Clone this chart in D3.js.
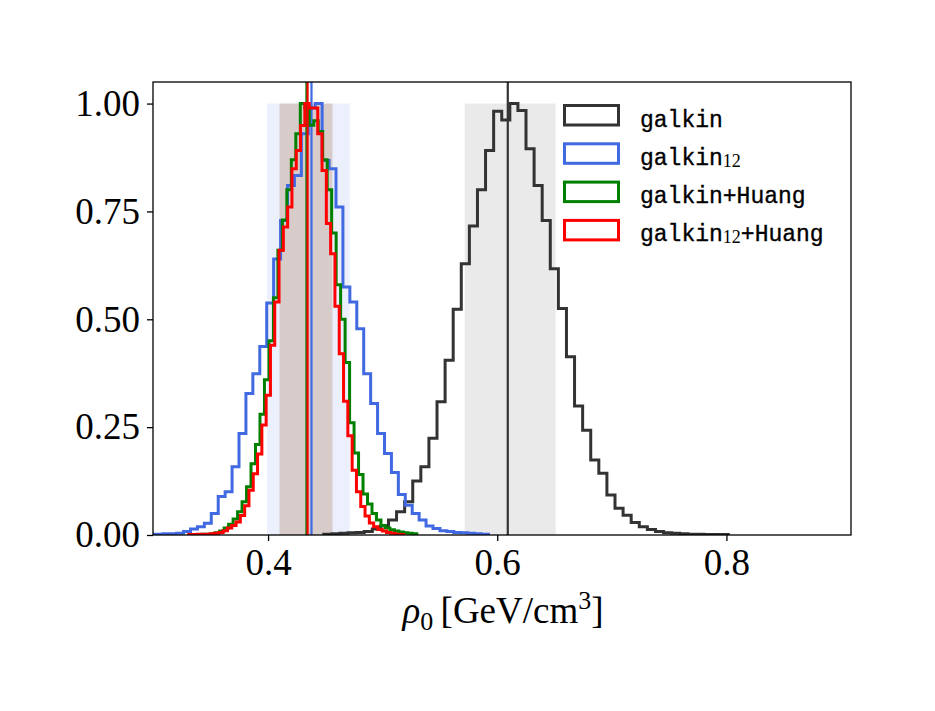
<!DOCTYPE html>
<meta charset="utf-8">
<style>
body { margin: 0; background: #fff; }
.axis text { font-family: "Liberation Serif", serif; font-size: 37px; fill: #000; }
.axis path, .axis line { stroke: #000; stroke-width: 1.3px; fill: none; }
.legend text { font-family: "Liberation Mono", monospace; font-size: 23px; fill: #000; stroke: #000; stroke-width: 0.35px; }
.hist { fill: none; stroke-width: 3px; stroke-linejoin: miter; }
</style>
<body>
<script src="https://d3js.org/d3.v7.min.js"></script>
<script>

var xTicks = [0.4, 0.6, 0.8],
    yTicks = [0, 0.25, 0.5, 0.75, 1.0];

var models = ["galkin", "galkin12", "galkin+Huang", "galkin12+Huang"];
var colors = ["#333333", "#4169e1", "#008000", "#ff0000"];

// histogram ranges (50 bins each) and normalised heights
var galkinRange = [0.4486, 0.8016];
var galkinHeights = [0.002, 0.003, 0.004, 0.005, 0.006, 0.008, 0.014, 0.021, 0.035, 0.054,
  0.077, 0.125, 0.158, 0.224, 0.309, 0.405, 0.523, 0.629, 0.716, 0.800,
  0.891, 0.982, 0.962, 1.000, 0.984, 0.895, 0.810, 0.729, 0.617, 0.525,
  0.413, 0.299, 0.243, 0.174, 0.143, 0.093, 0.062, 0.046, 0.029, 0.019,
  0.013, 0.008, 0.005, 0.004, 0.003, 0.002, 0.002, 0.001, 0.001, 0.001];

var galkin12Range = [0.2900, 0.5923];
var galkin12Heights = [0.001, 0.002, 0.002, 0.003, 0.003, 0.004, 0.008, 0.014, 0.019, 0.027,
  0.050, 0.089, 0.100, 0.158, 0.235, 0.328, 0.374, 0.437, 0.538, 0.640,
  0.729, 0.810, 0.833, 0.930, 0.990, 1.000, 0.868, 0.849, 0.760, 0.575,
  0.540, 0.478, 0.374, 0.305, 0.235, 0.189, 0.145, 0.094, 0.069, 0.050,
  0.035, 0.021, 0.015, 0.010, 0.008, 0.006, 0.005, 0.004, 0.003, 0.002];

var huangRange = [0.3343, 0.5298];
var huangHeights = [0.001, 0.001, 0.002, 0.002, 0.003, 0.005, 0.009, 0.016, 0.025, 0.037,
  0.054, 0.077, 0.112, 0.165, 0.210, 0.280, 0.360, 0.450, 0.550, 0.660,
  0.730, 0.800, 0.870, 0.930, 1.000, 0.990, 0.950, 0.960, 0.935, 0.870,
  0.800, 0.700, 0.580, 0.500, 0.400, 0.260, 0.190, 0.140, 0.095, 0.072,
  0.050, 0.035, 0.022, 0.016, 0.012, 0.009, 0.007, 0.005, 0.004, 0.003];

var huang12Range = [0.3308, 0.5184];
var huang12Heights = [0.001, 0.001, 0.002, 0.002, 0.002, 0.003, 0.004, 0.006, 0.010, 0.016,
  0.022, 0.030, 0.045, 0.068, 0.104, 0.142, 0.188, 0.255, 0.324, 0.440,
  0.540, 0.660, 0.714, 0.760, 0.849, 0.891, 0.949, 1.000, 0.990, 0.990,
  0.930, 0.845, 0.722, 0.652, 0.530, 0.420, 0.310, 0.230, 0.150, 0.100,
  0.066, 0.044, 0.028, 0.019, 0.013, 0.009, 0.006, 0.004, 0.002, 0.001];

var medians = [0.6092, 0.4379, 0.4335, 0.4345];
var bands = [[0.5716, 0.6510], [0.3991, 0.4713], [0.4100, 0.4562], [0.4100, 0.4562]];

var ranges = [galkinRange, galkin12Range, huangRange, huang12Range],
    heights = [galkinHeights, galkin12Heights, huangHeights, huang12Heights];

var margin = {top: 82, right: 84, bottom: 176, left: 153},
    width = 935 - margin.left - margin.right,
    height = 711 - margin.top - margin.bottom;

var x = d3.scaleLinear().domain([0.2996, 0.9087]).range([0, width]);
var y = d3.scaleLinear().domain([0, 1.05]).range([height, 0]);

var svg = d3.select("body").append("svg")
    .attr("width", 935)
    .attr("height", 711)
  .append("g")
    .attr("transform", "translate(" + margin.left + "," + margin.top + ")");

svg.append("clipPath").attr("id", "clip")
  .append("rect").attr("width", width).attr("height", height);

var plot = svg.append("g").attr("clip-path", "url(#clip)");

var line = d3.line()
    .x(function(d) { return x(d[0]); })
    .y(function(d) { return y(d[1]); });

function stepPoints(range, h) {
  var w = (range[1] - range[0]) / h.length, pts = [[range[0], 0]];
  h.forEach(function(v, i) {
    pts.push([range[0] + i * w, v], [range[0] + (i + 1) * w, v]);
  });
  pts.push([range[1], 0]);
  return pts;
}

models.forEach(function(m, i) {
  plot.append("rect")
      .attr("x", x(bands[i][0]))
      .attr("width", x(bands[i][1]) - x(bands[i][0]))
      .attr("y", y(1))
      .attr("height", y(0) - y(1))
      .attr("fill", colors[i])
      .attr("fill-opacity", 0.1);
});

models.forEach(function(m, i) {
  plot.append("path")
      .datum(stepPoints(ranges[i], heights[i]))
      .attr("class", "hist")
      .attr("stroke", colors[i])
      .attr("d", line);
  plot.append("line")
      .attr("x1", x(medians[i])).attr("x2", x(medians[i]))
      .attr("y1", 0).attr("y2", height)
      .attr("stroke", colors[i])
      .attr("stroke-width", 2.2);
});

svg.append("rect")
    .attr("width", width).attr("height", height)
    .attr("fill", "none").attr("stroke", "#000").attr("stroke-width", 1.3);

svg.append("g")
    .attr("class", "axis")
    .attr("transform", "translate(0," + height + ")")
    .call(d3.axisBottom(x).tickValues(xTicks).tickFormat(d3.format(".1f")).tickSize(6).tickPadding(8))
    .call(function(g) { g.select(".domain").remove(); });

svg.append("g")
    .attr("class", "axis")
    .call(d3.axisLeft(y).tickValues(yTicks).tickFormat(d3.format(".2f")).tickSize(6).tickPadding(7))
    .call(function(g) { g.select(".domain").remove(); });

svg.selectAll(".axis text").attr("font-family", null).attr("font-size", null);

// x label
var xl = svg.append("text")
    .attr("x", 350).attr("y", 541)
    .attr("text-anchor", "middle")
    .style("font-family", "Liberation Serif, serif")
    .style("font-size", "37px");
xl.append("tspan").style("font-style", "italic").text("ρ");
xl.append("tspan").attr("dy", 7).style("font-size", "26px").text("0");
xl.append("tspan").attr("dy", -7).text("\u2009[GeV/cm");
xl.append("tspan").attr("dy", -14).style("font-size", "26px").text("3");
xl.append("tspan").attr("dy", 14).text("]");

// legend
var labels = [["galkin", "", ""], ["galkin", "12", ""], ["galkin+Huang", "", ""], ["galkin", "12", "+Huang"]];
var legend = d3.select("svg").append("g").attr("class", "legend");
labels.forEach(function(l, i) {
  var yy = 105.5 + i * 38.3;
  legend.append("rect")
      .attr("x", 564.5).attr("y", yy)
      .attr("width", 54).attr("height", 19.5)
      .attr("fill", "none")
      .attr("stroke", colors[i])
      .attr("stroke-width", 3);
  var t = legend.append("text").attr("x", 640).attr("y", yy + 21);
  t.append("tspan").text(l[0]);
  if (l[1]) {
    t.append("tspan").attr("dy", 2)
        .style("font-family", "Liberation Serif, serif")
        .style("font-size", "18px")
        .style("stroke-width", "0px")
        .text(l[1]);
    t.append("tspan").attr("dy", -2).text(l[2]);
  }
});

</script>
